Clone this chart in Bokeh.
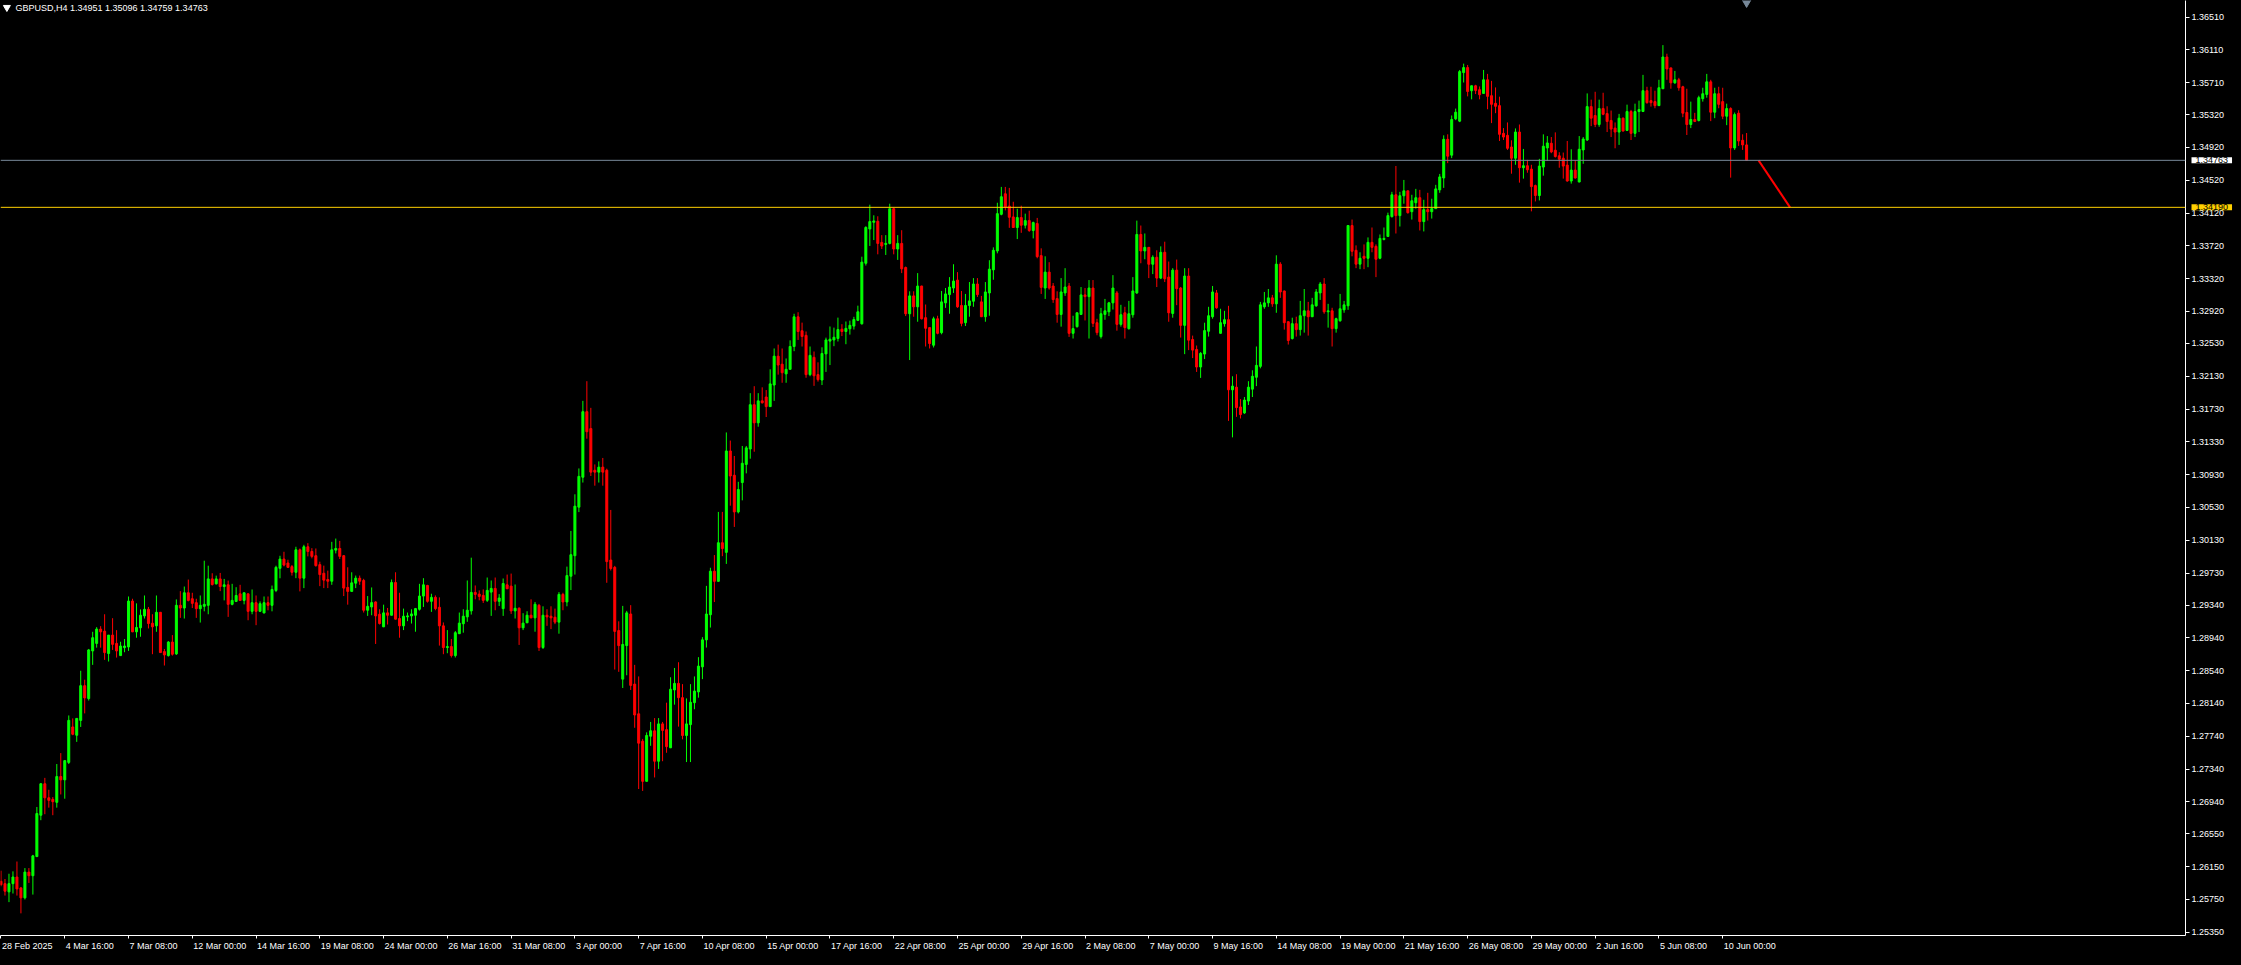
from bokeh.plotting import figure
from bokeh.models import (ColumnDataSource, FixedTicker, PrintfTickFormatter, Span, Label,
                          Range1d, CustomJSTickFormatter, GlobalInlineStyleSheet)
from bokeh.embed import file_html
from bokeh.resources import INLINE

symbol = "GBPUSD,H4"

opens = [
 1.25972, 1.25943, 1.25843, 1.25943, 1.26024, 1.25891, 1.25770, 1.26084, 1.26040, 1.26274,
 1.26778, 1.27161, 1.26990, 1.26971, 1.26935, 1.27249, 1.27209, 1.27422, 1.27854, 1.27753,
 1.27934, 1.28357, 1.28200, 1.28781, 1.28873, 1.29047, 1.29022, 1.28749, 1.28974, 1.28873,
 1.28724, 1.28821, 1.28829, 1.29389, 1.29014, 1.29063, 1.29208, 1.29288, 1.29119, 1.29087,
 1.29252, 1.28773, 1.28724, 1.28889, 1.28745, 1.29337, 1.29304, 1.29490, 1.29417, 1.29369,
 1.29296, 1.29325, 1.29337, 1.29659, 1.29599, 1.29659, 1.29566, 1.29587, 1.29349, 1.29385,
 1.29477, 1.29397, 1.29477, 1.29264, 1.29369, 1.29264, 1.29244, 1.29369, 1.29337, 1.29518,
 1.29788, 1.29901, 1.29853, 1.29809, 1.29740, 1.30014, 1.29668, 1.30051, 1.29994, 1.29942,
 1.29833, 1.29728, 1.29652, 1.29631, 1.30010, 1.30030, 1.29942, 1.29555, 1.29507, 1.29607,
 1.29668, 1.29640, 1.29277, 1.29317, 1.29378, 1.29228, 1.29075, 1.29245, 1.29216, 1.29615,
 1.29176, 1.29087, 1.29196, 1.29208, 1.29216, 1.29289, 1.29450, 1.29579, 1.29386, 1.29434,
 1.29313, 1.29087, 1.28822, 1.28834, 1.28725, 1.28991, 1.29112, 1.29196, 1.29269, 1.29494,
 1.29474, 1.29458, 1.29398, 1.29498, 1.29543, 1.29386, 1.29297, 1.29587, 1.29571, 1.29269,
 1.29301, 1.29063, 1.29124, 1.29216, 1.29184, 1.29337, 1.28822, 1.29216, 1.29204, 1.29192,
 1.29132, 1.29470, 1.29378, 1.29692, 1.29942, 1.30534, 1.30899, 1.31698, 1.31492, 1.30984,
 1.30961, 1.31022, 1.30984, 1.29889, 1.29800, 1.29029, 1.28437, 1.28846, 1.29231, 1.28376,
 1.28014, 1.27680, 1.27191, 1.27741, 1.27807, 1.27436, 1.27891, 1.27821, 1.27600, 1.28305,
 1.28385, 1.28211, 1.27750, 1.27882, 1.28150, 1.28281, 1.28587, 1.28916, 1.29222, 1.29753,
 1.29630, 1.30100, 1.29983, 1.31219, 1.30923, 1.30476, 1.30834, 1.31055, 1.31243, 1.31783,
 1.31562, 1.31830, 1.31877, 1.31760, 1.32023, 1.32375, 1.32277, 1.32159, 1.32215, 1.32493,
 1.32855, 1.32685, 1.32629, 1.32150, 1.32361, 1.32150, 1.32084, 1.32403, 1.32559, 1.32573,
 1.32591, 1.32704, 1.32676, 1.32709, 1.32742, 1.32812, 1.32770, 1.33508, 1.33926, 1.34008,
 1.34020, 1.33762, 1.33738, 1.33750, 1.34173, 1.33682, 1.33750, 1.33456, 1.32892, 1.33110,
 1.32977, 1.33230, 1.32844, 1.32723, 1.32509, 1.32831, 1.32662, 1.33025, 1.33126, 1.33206,
 1.33303, 1.32993, 1.32783, 1.32993, 1.33045, 1.33255, 1.33037, 1.32856, 1.33146, 1.33428,
 1.33658, 1.34105, 1.34355, 1.34206, 1.34073, 1.33944, 1.34065, 1.33972, 1.34028, 1.33907,
 1.33992, 1.33601, 1.33206, 1.33400, 1.33230, 1.33077, 1.32884, 1.33146, 1.33230, 1.32654,
 1.32735, 1.32884, 1.33122, 1.33101, 1.33206, 1.32783, 1.32614, 1.32884, 1.32916, 1.33025,
 1.33146, 1.32763, 1.32904, 1.32711, 1.32880, 1.33146, 1.33859, 1.33658, 1.33702, 1.33496,
 1.33581, 1.33327, 1.33642, 1.33339, 1.32896, 1.33424, 1.33206, 1.32751, 1.33352, 1.32578,
 1.32457, 1.32243, 1.32401, 1.32679, 1.32856, 1.33146, 1.32654, 1.32771, 1.32820, 1.31965,
 1.31997, 1.31756, 1.31683, 1.31828, 1.31973, 1.32118, 1.32251, 1.32977, 1.33025, 1.33086,
 1.33013, 1.33497, 1.33170, 1.32795, 1.32590, 1.32771, 1.32699, 1.32868, 1.32928, 1.32856,
 1.32989, 1.33146, 1.33255, 1.32916, 1.32928, 1.32711, 1.32807, 1.32940, 1.32989, 1.33968,
 1.33666, 1.33497, 1.33593, 1.33569, 1.33763, 1.33714, 1.33569, 1.33799, 1.33835, 1.34077,
 1.34343, 1.34089, 1.34331, 1.34391, 1.34137, 1.34246, 1.34307, 1.34016, 1.34162, 1.34137,
 1.34174, 1.34403, 1.34548, 1.35019, 1.34826, 1.35269, 1.35241, 1.35833, 1.35894, 1.35612,
 1.35672, 1.35624, 1.35579, 1.35745, 1.35551, 1.35458, 1.35430, 1.35092, 1.35068, 1.34926,
 1.34789, 1.35108, 1.34673, 1.34697, 1.34656, 1.34455, 1.34334, 1.34681, 1.34914, 1.34971,
 1.34886, 1.34818, 1.34789, 1.34705, 1.34511, 1.34644, 1.34499, 1.34890, 1.35011, 1.35418,
 1.35309, 1.35200, 1.35394, 1.35333, 1.35249, 1.35156, 1.35108, 1.35277, 1.35128, 1.35358,
 1.35092, 1.35358, 1.35358, 1.35612, 1.35491, 1.35479, 1.35430, 1.35636, 1.36023, 1.35890,
 1.35708, 1.35745, 1.35660, 1.35346, 1.35200, 1.35261, 1.35249, 1.35515, 1.35567, 1.35720,
 1.35350, 1.35575, 1.35479, 1.35301, 1.35394, 1.34914, 1.35338, 1.35007, 1.34951,
]

highs = [
 1.26101, 1.26000, 1.26064, 1.26093, 1.26213, 1.25903, 1.26133, 1.26133, 1.26294, 1.26878,
 1.27169, 1.27233, 1.27088, 1.26999, 1.27402, 1.27535, 1.27451, 1.27994, 1.27958, 1.27958,
 1.28539, 1.28430, 1.28805, 1.29014, 1.29071, 1.29083, 1.29228, 1.28974, 1.29180, 1.29034,
 1.28893, 1.28926, 1.29445, 1.29417, 1.29361, 1.29288, 1.29457, 1.29317, 1.29228, 1.29457,
 1.29256, 1.28805, 1.28901, 1.28974, 1.29409, 1.29510, 1.29566, 1.29651, 1.29490, 1.29417,
 1.29457, 1.29881, 1.29820, 1.29728, 1.29699, 1.29732, 1.29659, 1.29639, 1.29599, 1.29558,
 1.29587, 1.29494, 1.29481, 1.29530, 1.29457, 1.29385, 1.29445, 1.29445, 1.29578, 1.29820,
 1.29941, 1.29990, 1.29893, 1.29829, 1.30051, 1.30030, 1.30075, 1.30095, 1.30034, 1.30030,
 1.29869, 1.29821, 1.29760, 1.30111, 1.30151, 1.30123, 1.29950, 1.29801, 1.29740, 1.29700,
 1.29700, 1.29660, 1.29450, 1.29555, 1.29386, 1.29289, 1.29345, 1.29305, 1.29652, 1.29740,
 1.29490, 1.29297, 1.29249, 1.29289, 1.29305, 1.29599, 1.29668, 1.29587, 1.29478, 1.29458,
 1.29434, 1.29128, 1.29035, 1.28926, 1.29023, 1.29249, 1.29289, 1.29640, 1.29918, 1.29579,
 1.29519, 1.29531, 1.29676, 1.29640, 1.29676, 1.29474, 1.29664, 1.29712, 1.29724, 1.29591,
 1.29313, 1.29241, 1.29265, 1.29410, 1.29378, 1.29354, 1.29325, 1.29289, 1.29325, 1.29297,
 1.29498, 1.29490, 1.29809, 1.30244, 1.30691, 1.31006, 1.31830, 1.32070, 1.31745, 1.31055,
 1.31092, 1.31134, 1.31003, 1.30500, 1.29818, 1.29142, 1.29330, 1.29269, 1.29339, 1.28611,
 1.28470, 1.27708, 1.27788, 1.27915, 1.27962, 1.27962, 1.27915, 1.28150, 1.28460, 1.28573,
 1.28643, 1.28376, 1.28202, 1.28376, 1.28470, 1.28705, 1.28949, 1.29574, 1.29795, 1.29950,
 1.30476, 1.30476, 1.31445, 1.31346, 1.31158, 1.30843, 1.31280, 1.31280, 1.31924, 1.32009,
 1.31924, 1.31995, 1.31962, 1.32215, 1.32469, 1.32516, 1.32469, 1.32347, 1.32568, 1.32892,
 1.32911, 1.32784, 1.32676, 1.32493, 1.32432, 1.32300, 1.32483, 1.32601, 1.32737, 1.32723,
 1.32845, 1.32765, 1.32798, 1.32808, 1.32855, 1.32991, 1.33588, 1.33959, 1.34222, 1.34093,
 1.34081, 1.33851, 1.33851, 1.34234, 1.34186, 1.33851, 1.33911, 1.33468, 1.33166, 1.33166,
 1.33388, 1.33234, 1.33005, 1.32727, 1.32856, 1.32868, 1.33170, 1.33206, 1.33339, 1.33496,
 1.33400, 1.33170, 1.33134, 1.33279, 1.33327, 1.33327, 1.33110, 1.33279, 1.33545, 1.33702,
 1.34246, 1.34439, 1.34439, 1.34427, 1.34258, 1.34173, 1.34210, 1.34113, 1.34149, 1.34016,
 1.34061, 1.33690, 1.33593, 1.33521, 1.33267, 1.33166, 1.33327, 1.33448, 1.33267, 1.32868,
 1.32908, 1.33218, 1.33206, 1.33303, 1.33303, 1.32831, 1.32964, 1.33073, 1.33037, 1.33363,
 1.33170, 1.33001, 1.32977, 1.33049, 1.33339, 1.34028, 1.33968, 1.33871, 1.33706, 1.33605,
 1.33666, 1.33714, 1.33771, 1.33529, 1.33448, 1.33553, 1.33219, 1.33448, 1.33448, 1.32626,
 1.32505, 1.32425, 1.32783, 1.32977, 1.33231, 1.33182, 1.32953, 1.32928, 1.32989, 1.32130,
 1.32155, 1.31852, 1.31877, 1.32070, 1.32203, 1.32493, 1.33037, 1.33158, 1.33194, 1.33122,
 1.33605, 1.33521, 1.33174, 1.32799, 1.32844, 1.32856, 1.33049, 1.33194, 1.33037, 1.33086,
 1.33194, 1.33279, 1.33327, 1.33013, 1.32965, 1.32844, 1.33134, 1.33049, 1.33972, 1.34041,
 1.33726, 1.33642, 1.33738, 1.33823, 1.33944, 1.33738, 1.33859, 1.33944, 1.34125, 1.34379,
 1.34694, 1.34379, 1.34524, 1.34395, 1.34343, 1.34415, 1.34403, 1.34282, 1.34367, 1.34295,
 1.34464, 1.34597, 1.35068, 1.35080, 1.35310, 1.35394, 1.35865, 1.35942, 1.35926, 1.35676,
 1.35684, 1.35664, 1.35865, 1.35817, 1.35732, 1.35652, 1.35539, 1.35156, 1.35225, 1.35007,
 1.35152, 1.35200, 1.34902, 1.34769, 1.34709, 1.34467, 1.34781, 1.35080, 1.35059, 1.35047,
 1.35104, 1.34862, 1.34858, 1.34999, 1.34898, 1.34765, 1.35059, 1.35047, 1.35579, 1.35503,
 1.35599, 1.35503, 1.35587, 1.35422, 1.35370, 1.35225, 1.35329, 1.35285, 1.35442, 1.35378,
 1.35454, 1.35491, 1.35805, 1.35660, 1.35660, 1.35612, 1.35745, 1.36168, 1.36063, 1.35894,
 1.35853, 1.35769, 1.35672, 1.35636, 1.35479, 1.35342, 1.35551, 1.35648, 1.35817, 1.35745,
 1.35648, 1.35660, 1.35648, 1.35454, 1.35410, 1.35346, 1.35374, 1.35080, 1.35096,
]

lows = [
 1.25911, 1.25798, 1.25718, 1.25823, 1.25798, 1.25581, 1.25750, 1.25952, 1.25810, 1.26266,
 1.26717, 1.26790, 1.26870, 1.26778, 1.26870, 1.27031, 1.26979, 1.27402, 1.27753, 1.27672,
 1.27854, 1.28019, 1.28176, 1.28611, 1.28821, 1.28821, 1.28672, 1.28652, 1.28793, 1.28700,
 1.28724, 1.28765, 1.28781, 1.29010, 1.28942, 1.28954, 1.29176, 1.29055, 1.28741, 1.29014,
 1.28757, 1.28603, 1.28712, 1.28724, 1.28732, 1.29184, 1.29176, 1.29385, 1.29304, 1.29184,
 1.29127, 1.29264, 1.29228, 1.29578, 1.29591, 1.29510, 1.29397, 1.29196, 1.29337, 1.29377,
 1.29393, 1.29349, 1.29155, 1.29228, 1.29095, 1.29260, 1.29240, 1.29276, 1.29264, 1.29498,
 1.29667, 1.29812, 1.29796, 1.29700, 1.29668, 1.29507, 1.29547, 1.29934, 1.29910, 1.29809,
 1.29571, 1.29547, 1.29547, 1.29587, 1.29970, 1.29902, 1.29450, 1.29345, 1.29503, 1.29547,
 1.29587, 1.29249, 1.29208, 1.29216, 1.28866, 1.29103, 1.29071, 1.29103, 1.29212, 1.29164,
 1.28942, 1.29035, 1.29144, 1.29115, 1.29015, 1.29273, 1.29317, 1.29370, 1.29257, 1.29277,
 1.28846, 1.28741, 1.28753, 1.28701, 1.28701, 1.28987, 1.29003, 1.29136, 1.29224, 1.29410,
 1.29398, 1.29366, 1.29378, 1.29208, 1.29277, 1.29329, 1.29208, 1.29535, 1.29232, 1.29176,
 1.28854, 1.29035, 1.29120, 1.29180, 1.29015, 1.28781, 1.28805, 1.29087, 1.29047, 1.29108,
 1.28991, 1.29277, 1.29325, 1.29523, 1.29712, 1.30474, 1.30834, 1.31369, 1.30914, 1.30796,
 1.30834, 1.30796, 1.29612, 1.29762, 1.28554, 1.28526, 1.28329, 1.28484, 1.28305, 1.27844,
 1.27097, 1.27074, 1.27187, 1.27624, 1.27238, 1.27342, 1.27436, 1.27539, 1.27596, 1.28126,
 1.27858, 1.27703, 1.27426, 1.27426, 1.28070, 1.28211, 1.28437, 1.28822, 1.29066, 1.29377,
 1.29626, 1.29936, 1.29842, 1.30552, 1.30293, 1.30458, 1.30617, 1.30946, 1.31125, 1.31210,
 1.31515, 1.31797, 1.31633, 1.31756, 1.31830, 1.32150, 1.32051, 1.32051, 1.32211, 1.32436,
 1.32573, 1.32493, 1.32112, 1.32131, 1.32013, 1.32065, 1.32023, 1.32183, 1.32267, 1.32497,
 1.32554, 1.32620, 1.32521, 1.32638, 1.32700, 1.32803, 1.32760, 1.33480, 1.33719, 1.33791,
 1.33617, 1.33682, 1.33609, 1.33738, 1.33617, 1.33549, 1.33388, 1.32864, 1.32328, 1.32856,
 1.32795, 1.32823, 1.32493, 1.32469, 1.32481, 1.32642, 1.32642, 1.32964, 1.32892, 1.33146,
 1.32964, 1.32739, 1.32743, 1.32856, 1.32977, 1.33097, 1.32852, 1.32795, 1.32868, 1.33307,
 1.33629, 1.34093, 1.34153, 1.33940, 1.33940, 1.33803, 1.33879, 1.33932, 1.33891, 1.33811,
 1.33569, 1.33134, 1.33073, 1.33186, 1.33025, 1.32783, 1.32735, 1.33110, 1.32610, 1.32590,
 1.32723, 1.32880, 1.32811, 1.32590, 1.32731, 1.32630, 1.32590, 1.32819, 1.32864, 1.32944,
 1.32686, 1.32735, 1.32590, 1.32698, 1.32844, 1.33134, 1.33508, 1.33557, 1.33327, 1.33376,
 1.33218, 1.33315, 1.33279, 1.32795, 1.32844, 1.32997, 1.32602, 1.32400, 1.32449, 1.32352,
 1.32183, 1.32110, 1.32340, 1.32614, 1.32832, 1.32953, 1.32650, 1.32735, 1.31586, 1.31385,
 1.31635, 1.31615, 1.31671, 1.31780, 1.31877, 1.32010, 1.32227, 1.32953, 1.32977, 1.32977,
 1.32904, 1.33086, 1.32699, 1.32517, 1.32578, 1.32614, 1.32626, 1.32662, 1.32626, 1.32852,
 1.32977, 1.33061, 1.32892, 1.32723, 1.32493, 1.32662, 1.32795, 1.32904, 1.32940, 1.33593,
 1.33448, 1.33436, 1.33436, 1.33460, 1.33642, 1.33339, 1.33557, 1.33787, 1.33831, 1.34065,
 1.33871, 1.33956, 1.34234, 1.34113, 1.34041, 1.34174, 1.33908, 1.33896, 1.34029, 1.34053,
 1.34170, 1.34367, 1.34427, 1.34729, 1.34790, 1.35253, 1.35229, 1.35712, 1.35543, 1.35507,
 1.35571, 1.35507, 1.35575, 1.35386, 1.35217, 1.35338, 1.34999, 1.35011, 1.34890, 1.34600,
 1.34709, 1.34491, 1.34540, 1.34612, 1.34141, 1.34262, 1.34274, 1.34576, 1.34757, 1.34850,
 1.34797, 1.34673, 1.34540, 1.34503, 1.34479, 1.34540, 1.34495, 1.34721, 1.34999, 1.35180,
 1.35168, 1.35172, 1.35313, 1.35108, 1.35047, 1.34910, 1.34951, 1.35116, 1.35120, 1.35011,
 1.35047, 1.35108, 1.35354, 1.35454, 1.35418, 1.35398, 1.35426, 1.35632, 1.35745, 1.35636,
 1.35696, 1.35612, 1.35289, 1.35072, 1.35156, 1.35229, 1.35237, 1.35479, 1.35527, 1.35241,
 1.35277, 1.35398, 1.35265, 1.35192, 1.34552, 1.34890, 1.34939, 1.34890, 1.34759,
]

closes = [
 1.25931, 1.25851, 1.25943, 1.26024, 1.25879, 1.25770, 1.26084, 1.26040, 1.26282, 1.26798,
 1.27161, 1.26990, 1.26959, 1.26943, 1.27249, 1.27209, 1.27443, 1.27934, 1.27765, 1.27958,
 1.28357, 1.28208, 1.28793, 1.28942, 1.29047, 1.29014, 1.28761, 1.28974, 1.28861, 1.28781,
 1.28841, 1.28841, 1.29389, 1.29014, 1.29067, 1.29216, 1.29288, 1.29115, 1.29075, 1.29252,
 1.28761, 1.28732, 1.28889, 1.28741, 1.29337, 1.29304, 1.29490, 1.29397, 1.29361, 1.29296,
 1.29337, 1.29349, 1.29659, 1.29591, 1.29659, 1.29566, 1.29587, 1.29349, 1.29397, 1.29457,
 1.29397, 1.29490, 1.29264, 1.29369, 1.29264, 1.29357, 1.29369, 1.29337, 1.29530, 1.29800,
 1.29901, 1.29828, 1.29800, 1.29740, 1.30014, 1.29668, 1.30051, 1.29994, 1.29934, 1.29821,
 1.29712, 1.29644, 1.29631, 1.30014, 1.30030, 1.29934, 1.29547, 1.29507, 1.29611, 1.29668,
 1.29631, 1.29277, 1.29325, 1.29370, 1.29208, 1.29115, 1.29245, 1.29216, 1.29615, 1.29168,
 1.29087, 1.29204, 1.29208, 1.29232, 1.29297, 1.29450, 1.29587, 1.29386, 1.29434, 1.29297,
 1.29087, 1.28822, 1.28834, 1.28725, 1.29003, 1.29120, 1.29204, 1.29277, 1.29494, 1.29470,
 1.29446, 1.29398, 1.29519, 1.29543, 1.29386, 1.29426, 1.29603, 1.29539, 1.29269, 1.29301,
 1.29063, 1.29120, 1.29216, 1.29184, 1.29350, 1.28822, 1.29216, 1.29196, 1.29184, 1.29132,
 1.29470, 1.29378, 1.29700, 1.29954, 1.30546, 1.30909, 1.31698, 1.31454, 1.30961, 1.30961,
 1.31022, 1.30961, 1.29870, 1.29786, 1.29019, 1.28846, 1.28860, 1.29245, 1.28361, 1.28000,
 1.27656, 1.27191, 1.27750, 1.27807, 1.27436, 1.27891, 1.27812, 1.27614, 1.28314, 1.28385,
 1.28211, 1.27750, 1.27891, 1.28155, 1.28291, 1.28596, 1.28916, 1.29231, 1.29753, 1.29630,
 1.30100, 1.30030, 1.31219, 1.30914, 1.30476, 1.30749, 1.31069, 1.31257, 1.31783, 1.31562,
 1.31830, 1.31807, 1.31760, 1.32037, 1.32375, 1.32267, 1.32173, 1.32215, 1.32493, 1.32855,
 1.32676, 1.32615, 1.32150, 1.32385, 1.32136, 1.32089, 1.32408, 1.32573, 1.32582, 1.32606,
 1.32700, 1.32676, 1.32714, 1.32751, 1.32822, 1.32916, 1.33522, 1.33945, 1.34016, 1.34024,
 1.33750, 1.33718, 1.33750, 1.34173, 1.33682, 1.33750, 1.33440, 1.32892, 1.33110, 1.32977,
 1.33230, 1.32831, 1.32715, 1.32529, 1.32831, 1.32654, 1.33037, 1.33134, 1.33218, 1.33291,
 1.32977, 1.32775, 1.32993, 1.33049, 1.33255, 1.33126, 1.32856, 1.33158, 1.33436, 1.33666,
 1.34113, 1.34319, 1.34194, 1.34069, 1.33944, 1.34065, 1.33972, 1.34028, 1.33907, 1.34004,
 1.33589, 1.33214, 1.33400, 1.33206, 1.33065, 1.32884, 1.33158, 1.33218, 1.32654, 1.32711,
 1.32904, 1.33122, 1.33101, 1.33206, 1.32775, 1.32662, 1.32892, 1.32928, 1.33025, 1.33206,
 1.32763, 1.32880, 1.32723, 1.32892, 1.33170, 1.33859, 1.33658, 1.33702, 1.33496, 1.33581,
 1.33327, 1.33641, 1.33319, 1.32904, 1.33424, 1.33198, 1.32751, 1.33352, 1.32570, 1.32449,
 1.32243, 1.32409, 1.32687, 1.32868, 1.33158, 1.32965, 1.32783, 1.32820, 1.31965, 1.32010,
 1.31748, 1.31663, 1.31840, 1.31997, 1.32130, 1.32263, 1.33001, 1.33025, 1.33086, 1.33013,
 1.33497, 1.33158, 1.32783, 1.32566, 1.32771, 1.32699, 1.32868, 1.32928, 1.32856, 1.33001,
 1.33158, 1.33255, 1.32916, 1.32928, 1.32711, 1.32832, 1.32953, 1.33001, 1.33968, 1.33654,
 1.33497, 1.33569, 1.33569, 1.33763, 1.33702, 1.33557, 1.33811, 1.33811, 1.34089, 1.34343,
 1.34089, 1.34331, 1.34391, 1.34125, 1.34270, 1.34307, 1.34016, 1.34162, 1.34137, 1.34174,
 1.34415, 1.34561, 1.35019, 1.34814, 1.35261, 1.35350, 1.35845, 1.35894, 1.35603, 1.35672,
 1.35616, 1.35563, 1.35745, 1.35543, 1.35446, 1.35422, 1.35080, 1.35047, 1.34910, 1.34789,
 1.35108, 1.34673, 1.34697, 1.34648, 1.34443, 1.34334, 1.34693, 1.34935, 1.34975, 1.34866,
 1.34810, 1.34777, 1.34693, 1.34511, 1.34644, 1.34548, 1.34898, 1.35023, 1.35418, 1.35277,
 1.35200, 1.35394, 1.35325, 1.35237, 1.35144, 1.35108, 1.35277, 1.35120, 1.35358, 1.35092,
 1.35358, 1.35382, 1.35612, 1.35466, 1.35466, 1.35430, 1.35648, 1.36023, 1.35878, 1.35708,
 1.35745, 1.35648, 1.35338, 1.35200, 1.35261, 1.35237, 1.35527, 1.35575, 1.35720, 1.35350,
 1.35575, 1.35446, 1.35301, 1.35394, 1.34914, 1.35321, 1.34999, 1.34951, 1.34763,
]

time_labels = [
 "28 Feb 2025", "4 Mar 16:00", "7 Mar 08:00", "12 Mar 00:00", "14 Mar 16:00", "19 Mar 08:00",
 "24 Mar 00:00", "26 Mar 16:00", "31 Mar 08:00", "3 Apr 00:00", "7 Apr 16:00", "10 Apr 08:00",
 "15 Apr 00:00", "17 Apr 16:00", "22 Apr 08:00", "25 Apr 00:00", "29 Apr 16:00", "2 May 08:00",
 "7 May 00:00", "9 May 16:00", "14 May 08:00", "19 May 00:00", "21 May 16:00", "26 May 08:00",
 "29 May 00:00", "2 Jun 16:00", "5 Jun 08:00", "10 Jun 00:00",
]
bars_per_label = 16

price_ticks = [
 1.36510, 1.36110, 1.35710, 1.35320, 1.34920, 1.34520, 1.34120, 1.33720, 1.33320, 1.32920,
 1.32530, 1.32130, 1.31730, 1.31330, 1.30930, 1.30530, 1.30130, 1.29730, 1.29340, 1.28940,
 1.28540, 1.28140, 1.27740, 1.27340, 1.26940, 1.26550, 1.26150, 1.25750, 1.25350,
]

bid_price = 1.34763
level_price = 1.34190
trend_bars = [441.0, 448.9]
trend_prices = [1.34763, 1.34190]

# ---------------------------------------------------------------------------
GREEN = "#00FF00"
RED = "#FF0000"
BID_GRAY = "#778899"
GOLD = "#FFD000"
FONT = "Liberation Sans"
FS = "9px"

n = min(len(opens), len(highs), len(lows), len(closes))
idx = list(range(n))
tops = [max(opens[i], closes[i]) for i in idx]
bots = [min(opens[i], closes[i]) for i in idx]
his = [max(highs[i], tops[i]) for i in idx]
los = [min(lows[i], bots[i]) for i in idx]
cols = [GREEN if closes[i] >= opens[i] else RED for i in idx]
src = ColumnDataSource(dict(x=idx, top=tops, bottom=bots, high=his, low=los, color=cols))

x_start, x_end = -0.125, 548.125
y_start, y_end = 1.25311, 1.36712

p = figure(frame_width=2185, frame_height=935,
           x_range=Range1d(x_start, x_end), y_range=Range1d(y_start, y_end),
           y_axis_location="right", x_axis_location="below",
           output_backend="svg", toolbar_location=None,
           background_fill_color="#000000", border_fill_color="#000000",
           min_border_left=0, min_border_top=0, min_border_right=0, min_border_bottom=0)
p.outline_line_color = None
p.xgrid.visible = False
p.ygrid.visible = False
p.stylesheets = [GlobalInlineStyleSheet(
    css="html, body { background-color: #000000; overflow: hidden; }")]

# ---- price axis (right)
ya = p.yaxis[0]
ya.ticker = FixedTicker(ticks=price_ticks)
ya.formatter = PrintfTickFormatter(format="%.5f")
ya.axis_line_color = "white"
ya.major_tick_line_color = "white"
ya.minor_tick_line_color = None
ya.major_tick_out = 4
ya.major_tick_in = 0
ya.major_label_standoff = 2
ya.major_label_text_color = "white"
ya.major_label_text_font = FONT
ya.major_label_text_font_size = FS

# ---- time axis (below): ticks at the labelled bars (minor ticks); label text
# starts at the tick, so each label is centred half its width to the right.
_w = {" ": 278, ":": 278, "F": 611, "M": 833, "A": 667, "J": 500, "a": 556, "b": 556,
      "e": 556, "n": 556, "p": 556, "r": 333, "u": 556, "y": 500}
def text_width_px(s, size=9.0):
    return sum(_w.get(ch, 556) for ch in s) * size / 1000.0

px_per_bar = 2185.0 / (x_end - x_start)
tick_bars = [j * bars_per_label for j in range(len(time_labels))]
label_centres = [b + (1.0 + text_width_px(t) / 2.0) / px_per_bar
                 for b, t in zip(tick_bars, time_labels)]

xa = p.xaxis[0]
xa.ticker = FixedTicker(ticks=label_centres, minor_ticks=tick_bars)
xa.formatter = CustomJSTickFormatter(args=dict(centres=label_centres, labels=time_labels), code="""
let best = 0;
for (let i = 1; i < centres.length; i++) {
  if (Math.abs(centres[i] - tick) < Math.abs(centres[best] - tick)) best = i;
}
return labels[best];
""")
xa.axis_line_color = "white"
xa.major_tick_line_color = None
xa.major_tick_out = 3
xa.major_tick_in = 0
xa.minor_tick_line_color = "white"
xa.minor_tick_out = 3
xa.minor_tick_in = 0
xa.major_label_standoff = 2
xa.major_label_text_color = "white"
xa.major_label_text_font = FONT
xa.major_label_text_font_size = FS

# ---- candles
p.segment(x0="x", y0="low", x1="x", y1="high", source=src, line_color="color", line_width=1)
p.vbar(x="x", top="top", bottom="bottom", width=0.5, source=src,
       fill_color="color", line_color="color", line_width=1)

# ---- horizontal lines
p.add_layout(Span(location=bid_price, dimension="width", line_color=BID_GRAY, line_width=1))
p.add_layout(Span(location=level_price, dimension="width", line_color=GOLD, line_width=1))

# ---- trend line
p.line(trend_bars, trend_prices, line_color=RED, line_width=2)

# ---- chart shift marker at the top over the last bar
p.scatter(x=[n - 1], y=[y_end], marker="inverted_triangle", size=12,
          fill_color=BID_GRAY, line_color=BID_GRAY)

# ---- header
header = f"{symbol}  {opens[n-1]:.5f} {highs[n-1]:.5f} {lows[n-1]:.5f} {closes[n-1]:.5f}"
p.add_layout(Label(x=x_start, y=y_end, text=header, x_offset=15, y_offset=-2,
                   text_align="left", text_baseline="top", text_color="white",
                   text_font=FONT, text_font_size=FS))
p.scatter(x=[x_start + 1.6], y=[y_end - 0.00085], marker="inverted_triangle", size=7,
          fill_color="white", line_color="white")

# ---- price boxes on the axis: placed in the right side panel so they are not
# clipped to the frame; positioned in data space at the frame's right edge.
for price, bg in [(bid_price, "#FFFFFF"), (level_price, GOLD)]:
    p.add_layout(Label(x=x_end, y=price, text=f"{price:.5f}", x_offset=6, y_offset=0,
                       text_align="left", text_baseline="middle", text_color="black",
                       text_font=FONT, text_font_size=FS,
                       background_fill_color=bg, padding=(4, 0)), "right")

open("out.html", "w").write(file_html(p, INLINE))
